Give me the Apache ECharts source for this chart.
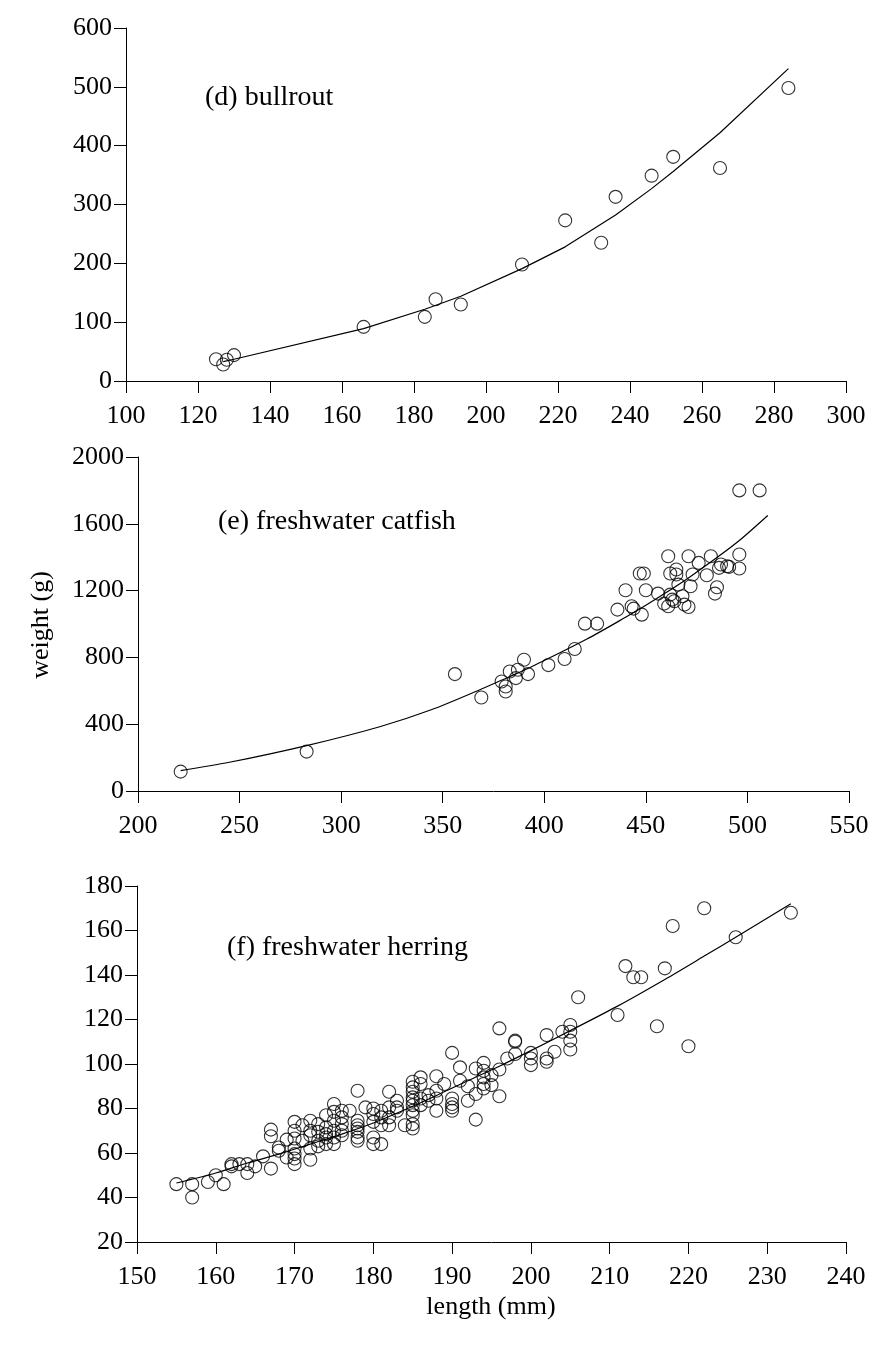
<!DOCTYPE html>
<html>
<head>
<meta charset="utf-8">
<title>length-weight</title>
<script src="https://cdn.jsdelivr.net/npm/echarts@6/dist/echarts.min.js"></script>
<style>
  html, body { margin: 0; padding: 0; background: #fff; }
  #chart { width: 872px; height: 1346px; }
</style>
</head>
<body>
<div id="chart"></div>
<script>
// 数据: [length, weight]
var bullroutData = [
    [125, 37], [127, 28], [128, 36], [130, 44], [166, 92], [183, 109], [186, 139], [193, 130],
    [210, 198], [222, 273], [232, 235], [236, 313], [246, 349], [252, 381], [265, 362], [284, 498]
];
var bullroutFit = [
    [127, 33], [130, 37], [166, 89], [183, 122], [193, 144], [210, 191], [222, 228],
    [236, 282], [246, 327], [252, 356], [265, 422], [284, 531]
];

var catfishData = [
    [221, 116], [283, 236], [356, 700], [369, 560], [379, 656], [381, 596], [381, 626], [383, 716],
    [386, 676], [387, 726], [390, 786], [392, 700], [402, 754], [410, 790], [415, 850],
    [420, 1002], [426, 1002], [436, 1086], [440, 1202], [443, 1106], [444, 1092],
    [447, 1302], [449, 1302], [448, 1056], [450, 1202], [456, 1182], [459, 1122], [461, 1106],
    [461, 1406], [462, 1302], [462, 1176], [463, 1146], [464, 1136], [465, 1326], [465, 1296],
    [466, 1236], [468, 1166], [469, 1116], [471, 1102], [471, 1406], [472, 1226], [473, 1296],
    [476, 1366], [480, 1292], [482, 1406], [484, 1182], [485, 1220], [486, 1336], [487, 1356],
    [490, 1346], [491, 1342], [496, 1416], [496, 1332], [496, 1800], [506, 1800]
];
var catfishFit = [
    [221, 122], [245, 172], [283, 272], [319, 385], [344, 485], [368, 605], [382, 680],
    [393, 740], [421, 910], [440, 1040], [450, 1112], [460, 1188], [472, 1285], [485, 1398],
    [496, 1500], [510, 1650]
];

var herringData = [
    [155, 46], [157, 46], [157, 40], [159, 47], [160, 50], [161, 46],
    [162, 54], [162, 55], [163, 55], [164, 55], [164, 51], [165, 54], [166, 58.5],
    [167, 70.5], [167, 67.5], [167, 53], [168, 62.5], [168, 61], [169, 66], [169, 58],
    [170, 74], [170, 70], [170, 66.5], [170, 62], [170, 59.5], [170, 57.5], [170, 55],
    [171, 72.5], [171, 65.5],
    [172, 74.5], [172, 70], [172, 68], [172, 62], [172, 57],
    [173, 73], [173, 69.5], [173, 65.5], [173, 63],
    [174, 77], [174, 71.5], [174, 68.5], [174, 67], [174, 64],
    [175, 82], [175, 78.5], [175, 74.5], [175, 70], [175, 67], [175, 64],
    [176, 79], [176, 76], [176, 73], [176, 70], [176, 68],
    [177, 79],
    [178, 88], [178, 74.5], [178, 72.5], [178, 71], [178, 69.5], [178, 67], [178, 65.5],
    [179, 80.5],
    [180, 80], [180, 77.5], [180, 74], [180, 67], [180, 64],
    [181, 79], [181, 76], [181, 72.5], [181, 64],
    [182, 87.5], [182, 80.5], [182, 76], [182, 72.5],
    [183, 83.5], [183, 80.5], [183, 79],
    [184, 72.5],
    [185, 92], [185, 89.5], [185, 87.5], [185, 85], [185, 83.5], [185, 81.5], [185, 79],
    [185, 77], [185, 73], [185, 71],
    [186, 94], [186, 91], [186, 84.5], [186, 81.5],
    [187, 86], [187, 83.5],
    [188, 94.5], [188, 88], [188, 84.5], [188, 79],
    [189, 91],
    [190, 105], [190, 84.5], [190, 82], [190, 80.5], [190, 79],
    [191, 98.5], [191, 92.5],
    [192, 90], [192, 83.5],
    [193, 98], [193, 86.5], [193, 75],
    [194, 100.5], [194, 97], [194, 94], [194, 91], [194, 89],
    [195, 95], [195, 90.5],
    [196, 116], [196, 97.5], [196, 85.5],
    [197, 102.5],
    [198, 110.5], [198, 110], [198, 104.5],
    [200, 105], [200, 102.5], [200, 99.5],
    [202, 113], [202, 102.5], [202, 101],
    [203, 105.5], [204, 114.5],
    [205, 117.5], [205, 114.5], [205, 110.5], [205, 106.5],
    [206, 130], [211, 122], [212, 144], [213, 139], [214, 139], [216, 117], [217, 143],
    [218, 162], [220, 108], [222, 170], [226, 157], [233, 168]
];
var herringFit = [
    [155, 46.5], [160, 51], [164, 55.5], [168, 59.5], [172, 64], [176, 68.5], [180, 73.5],
    [185, 81], [189, 87.5], [192, 92.5], [196, 99], [200, 106], [205, 115], [211, 126],
    [217, 138], [222, 148.5], [226, 157], [233, 172]
];

var panelNames = ['(d) bullrout', '(e) freshwater catfish', '(f) freshwater herring'];

var serif = '"Liberation Serif", "DejaVu Serif", serif';
var fontSize = 26;

function makeX(idx, min, max, interval) {
    return {
        gridIndex: idx, type: 'value', min: min, max: max, interval: interval,
        axisLine: { onZero: false, lineStyle: { color: '#000', width: 1 } },
        axisTick: { inside: false, length: 12, lineStyle: { color: '#000', width: 1 } },
        axisLabel: { color: '#000', fontFamily: serif, fontSize: fontSize, margin: 22,
                     formatter: function (v) { return String(v); } },
        splitLine: { show: false }
    };
}
function makeY(idx, min, max, interval) {
    return {
        gridIndex: idx, type: 'value', min: min, max: max, interval: interval,
        axisLine: { show: true, onZero: false, lineStyle: { color: '#000', width: 1 } },
        axisTick: { show: true, inside: false, length: 12, lineStyle: { color: '#000', width: 1 } },
        axisLabel: { color: '#000', fontFamily: serif, fontSize: fontSize, margin: 14,
                     formatter: function (v) { return String(v); } },
        splitLine: { show: false }
    };
}
function scatter(idx, data) {
    return {
        type: 'scatter', xAxisIndex: idx, yAxisIndex: idx, data: data,
        symbol: 'circle', symbolSize: 13, silent: true,
        itemStyle: { color: 'rgba(0,0,0,0)', borderColor: '#000', borderWidth: 1.1 }
    };
}
function fitLine(idx, data, smooth) {
    return {
        type: 'line', xAxisIndex: idx, yAxisIndex: idx, data: data,
        showSymbol: false, smooth: smooth, silent: true,
        lineStyle: { color: '#000', width: 1.2 }
    };
}

var chart = echarts.init(document.getElementById('chart'));
var option = {
    animation: false,
    backgroundColor: '#fff',
    grid: [
        { left: 126, top: 28, width: 720, height: 353 },
        { left: 138, top: 457, width: 711, height: 334 },
        { left: 137, top: 886, width: 709, height: 356 }
    ],
    xAxis: [
        makeX(0, 100, 300, 20),
        makeX(1, 200, 550, 50),
        makeX(2, 150, 240, 10)
    ],
    yAxis: [
        makeY(0, 0, 600, 100),
        makeY(1, 0, 2000, 400),
        makeY(2, 20, 180, 20)
    ],
    series: [
        scatter(0, bullroutData), fitLine(0, bullroutFit, false),
        scatter(1, catfishData), fitLine(1, catfishFit, 0.3),
        scatter(2, herringData), fitLine(2, herringFit, 0.3)
    ],
    graphic: [
        { type: 'text', x: 205, y: 98, style: { text: panelNames[0], font: '28px ' + serif, fill: '#000', verticalAlign: 'middle' } },
        { type: 'text', x: 218, y: 522, style: { text: panelNames[1], font: '28px ' + serif, fill: '#000', verticalAlign: 'middle' } },
        { type: 'text', x: 227, y: 948, style: { text: panelNames[2], font: '28px ' + serif, fill: '#000', verticalAlign: 'middle' } },
        { type: 'text', x: 41, y: 625, rotation: Math.PI / 2,
          style: { text: 'weight (g)', font: '26px ' + serif, fill: '#000', align: 'center', verticalAlign: 'middle' } },
        { type: 'text', x: 491, y: 1307,
          style: { text: 'length (mm)', font: '26px ' + serif, fill: '#000', align: 'center', verticalAlign: 'middle' } }
    ]
};
chart.setOption(option);
</script>
</body>
</html>
